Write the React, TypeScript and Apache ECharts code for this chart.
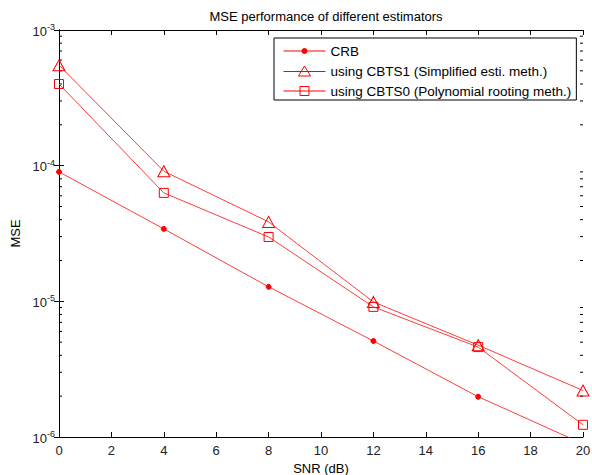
import React, { useEffect, useRef } from 'react';
import * as echarts from 'echarts';

// SNR (dB) sample points
const snr = [0, 4, 8, 12, 16, 20];
// MSE values
const crb = [9.0e-5, 3.42e-5, 1.28e-5, 5.1e-6, 1.98e-6, 8.9e-7];
const cbts1 = [5.5e-4, 9.1e-5, 3.85e-5, 9.9e-6, 4.75e-6, 2.2e-6];
const cbts0 = [4.0e-4, 6.3e-5, 2.98e-5, 9.1e-6, 4.6e-6, 1.23e-6];
const seriesNames = [
  'CRB',
  'using CBTS1 (Simplified esti. meth.)',
  'using CBTS0 (Polynomial rooting meth.)',
];
const minorSteps = [2, 3, 4, 5, 6, 7, 8, 9];
const decades = [-6, -5, -4];

const FONT = 'Arial, "Liberation Sans", Helvetica, sans-serif';
const RED = '#ff0000';
const LINE = '#ff3c3c';
const LABEL = '#222';

export default function App() {
  const ref = useRef<HTMLDivElement>(null);
  useEffect(() => {
    const chart = echarts.init(ref.current!, null, { renderer: 'svg' });
    const mk = (name: string, vals: number[], symbol: string, size: any, fill: string) => ({
      name,
      type: 'line',
      data: snr.map((x, i) => [x, vals[i]]),
      symbol,
      symbolSize: size,
      showSymbol: true,
      clip: true,
      lineStyle: { color: LINE, width: 1 },
      itemStyle: { color: fill, borderColor: RED, borderWidth: 1 },
      emphasis: { disabled: true },
      z: 3,
    });
    const axisCommonX = {
      type: 'value',
      min: 0,
      max: 20,
      interval: 2,
      splitLine: { show: false },
      axisLine: { lineStyle: { color: '#000', width: 1 } },
      axisTick: { inside: true, length: 5, lineStyle: { color: '#000' } },
    };
    const axisCommonY = {
      type: 'log',
      logBase: 10,
      min: 1e-6,
      max: 1e-3,
      splitLine: { show: false },
      axisLine: { lineStyle: { color: '#000', width: 1 } },
      axisTick: { inside: true, length: 5, lineStyle: { color: '#000' } },
    };
    chart.setOption({
      animation: false,
      backgroundColor: '#fff',
      textStyle: { fontFamily: FONT },
      title: {
        text: 'MSE performance of different estimators',
        left: 321,
        top: 5,
        textAlign: 'center',
        textStyle: { fontSize: 13, fontWeight: 'normal', color: '#000', fontFamily: FONT },
      },
      grid: { left: 59, right: 9, top: 30, bottom: 38, containLabel: false, outerBoundsMode: 'none' },
      legend: {
        orient: 'vertical',
        left: 274,
        top: 38,
        padding: [6, 5, 2, 9],
        itemWidth: 42,
        itemHeight: 14,
        itemGap: 6,
        backgroundColor: '#fff',
        borderColor: '#000',
        borderWidth: 1,
        borderRadius: 0,
        selectedMode: false,
        textStyle: { fontSize: 13.5, color: '#000', fontFamily: FONT, lineHeight: 14 },
        data: [
          {
            name: seriesNames[0],
            icon: 'path://M0 7 L42 7 M23.5 7 A2.5 2.5 0 1 1 18.5 7 A2.5 2.5 0 1 1 23.5 7 Z',
            itemStyle: { color: RED, borderColor: RED, borderWidth: 1 },
          },
          {
            name: seriesNames[1],
            icon: 'path://M0 7 L42 7 M21 1.5 L27 11.5 L15 11.5 Z',
            itemStyle: { color: 'rgba(0,0,0,0)', borderColor: RED, borderWidth: 1 },
          },
          {
            name: seriesNames[2],
            icon: 'path://M0 7 L42 7 M16.5 2.5 L25.5 2.5 L25.5 11.5 L16.5 11.5 Z',
            itemStyle: { color: 'rgba(0,0,0,0)', borderColor: RED, borderWidth: 1 },
          },
        ],
      },
      xAxis: [
        {
          ...axisCommonX,
          position: 'bottom',
          name: 'SNR (dB)',
          nameLocation: 'middle',
          nameGap: 24,
          nameTextStyle: { fontSize: 13, color: '#000', fontFamily: FONT },
          axisLabel: { fontSize: 13, color: LABEL, margin: 7, fontFamily: FONT },
        },
        {
          ...axisCommonX,
          position: 'top',
          axisLabel: { show: false },
        },
      ],
      yAxis: [
        {
          ...axisCommonY,
          position: 'left',
          name: 'MSE',
          nameLocation: 'middle',
          nameGap: 32,
          nameTextStyle: { fontSize: 13, color: '#000', fontFamily: FONT },
          axisLabel: {
            margin: 4,
            formatter: (v: number) => {
              const e = Math.round(Math.log10(v));
              return `{b|10}{s|${e}}`;
            },
            rich: {
              b: { fontSize: 13, color: LABEL, fontFamily: FONT, verticalAlign: 'bottom', lineHeight: 15 },
              s: { fontSize: 9, color: LABEL, fontFamily: FONT, verticalAlign: 'top', lineHeight: 10, padding: [0, 0, 9, 0] },
            },
          },
        },
        {
          ...axisCommonY,
          position: 'right',
          axisLabel: { show: false },
        },
      ],
      series: [
        mk(seriesNames[0], crb, 'circle', 5, RED),
        mk(seriesNames[1], cbts1, 'triangle', [12, 11], 'rgba(0,0,0,0)'),
        mk(seriesNames[2], cbts0, 'rect', 9, 'rgba(0,0,0,0)'),
      ],
    });

    const xl = chart.convertToPixel({ xAxisIndex: 0 }, 0) as number;
    const xr = chart.convertToPixel({ xAxisIndex: 0 }, 20) as number;
    const g: any[] = [];
    decades.forEach((e) => {
      minorSteps.forEach((k) => {
        const y = chart.convertToPixel({ yAxisIndex: 0 }, k * Math.pow(10, e)) as number;
        g.push({ type: 'line', silent: true, shape: { x1: xl, y1: y, x2: xl + 3, y2: y }, style: { stroke: '#000', lineWidth: 1 } });
        g.push({ type: 'line', silent: true, shape: { x1: xr - 3, y1: y, x2: xr, y2: y }, style: { stroke: '#000', lineWidth: 1 } });
      });
    });
    chart.setOption({ graphic: g });

    return () => chart.dispose();
  }, []);
  return <div ref={ref} style={{ position: 'fixed', left: 0, top: 0, width: 592, height: 475 }} />;
}
